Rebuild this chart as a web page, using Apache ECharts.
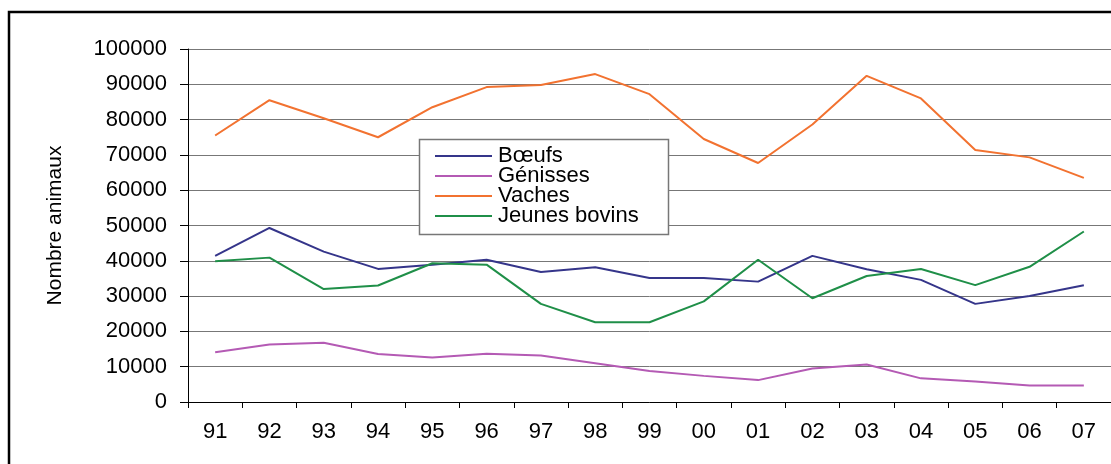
<!DOCTYPE html>
<html>
<head>
<meta charset="utf-8">
<script src="https://cdn.jsdelivr.net/npm/echarts@6/dist/echarts.min.js"></script>
<style>
html,body{margin:0;padding:0;background:#fff;}
#chart{width:1111px;height:464px;}
</style>
</head>
<body>
<div id="chart"></div>
<script>
const categories = ['91','92','93','94','95','96','97','98','99','00','01','02','03','04','05','06','07'];
const boeufs = [41400,49300,42600,37700,38900,40300,36800,38200,35100,35100,34100,41400,37600,34600,27800,30000,33100];
const genisses = [14100,16300,16800,13600,12600,13700,13200,11000,8800,7400,6200,9500,10600,6700,5800,4700,4700];
const vaches = [75500,85500,80400,75000,83500,89200,89800,92900,87200,74500,67700,78600,92400,86000,71400,69300,63500];
const jeunesBovins = [39900,40900,32000,33000,39300,38900,27800,22600,22600,28500,40300,29400,35700,37700,33100,38300,48300];
const seriesNames = ['Bœufs','Génisses','Vaches','Jeunes bovins'];
const yTitle = 'Nombre animaux';

const font = 'Liberation Sans, Arial, sans-serif';
const colors = ['#35358a','#b45ab4','#f27230','#1f8f48'];
const dataSets = [boeufs, genisses, vaches, jeunesBovins];

const chart = echarts.init(document.getElementById('chart'), null, {renderer:'canvas'});
chart.setOption({
  animation:false,
  color: colors,
  textStyle:{fontFamily:font},
  grid:{left:188, top:49, bottom:62, right:-7, containLabel:false},
  graphic:[
    {type:'rect', z:0, shape:{x:9, y:12, width:1200, height:600}, style:{fill:'none', stroke:'#000', lineWidth:2.5}},
    {type:'rect', z:9, shape:{x:419.5, y:139.5, width:249, height:95}, style:{fill:'#fff', stroke:'#777', lineWidth:1.5}}
  ],
  legend:{
    left:435, top:145, orient:'vertical', z:10,
    itemWidth:57, itemHeight:10, itemGap:-2, padding:0,
    icon:'path://M0,4L57,4L57,6L0,6Z',
    textStyle:{fontFamily:font, fontSize:22, color:'#000', lineHeight:20, padding:[0,0,0,1]},
    data: seriesNames
  },
  xAxis:{
    type:'category', data:categories, boundaryGap:true,
    axisLine:{lineStyle:{color:'#000', width:1}},
    axisTick:{show:true, length:6, interval:0, lineStyle:{color:'#000'}},
    axisLabel:{interval:0, margin:19, fontSize:22, color:'#000', fontFamily:font},
    splitLine:{show:false}
  },
  yAxis:{
    type:'value', min:0, max:100000, interval:10000,
    name: yTitle, nameLocation:'middle', nameGap:122,
    nameTextStyle:{fontSize:21, color:'#000', fontFamily:font},
    axisLine:{show:true, lineStyle:{color:'#000', width:1}},
    axisTick:{show:true, length:8, lineStyle:{color:'#000'}},
    axisLabel:{margin:21, fontSize:22, color:'#000', fontFamily:font, formatter:(v)=>String(v)},
    splitLine:{show:true, lineStyle:{color:'#777', width:1}}
  },
  series: seriesNames.map((n,i)=>({
    name:n, type:'line', data:dataSets[i], showSymbol:false, symbol:'none',
    lineStyle:{width:2, color:colors[i]}, itemStyle:{color:colors[i]}, z:2
  }))
});
</script>
</body>
</html>
